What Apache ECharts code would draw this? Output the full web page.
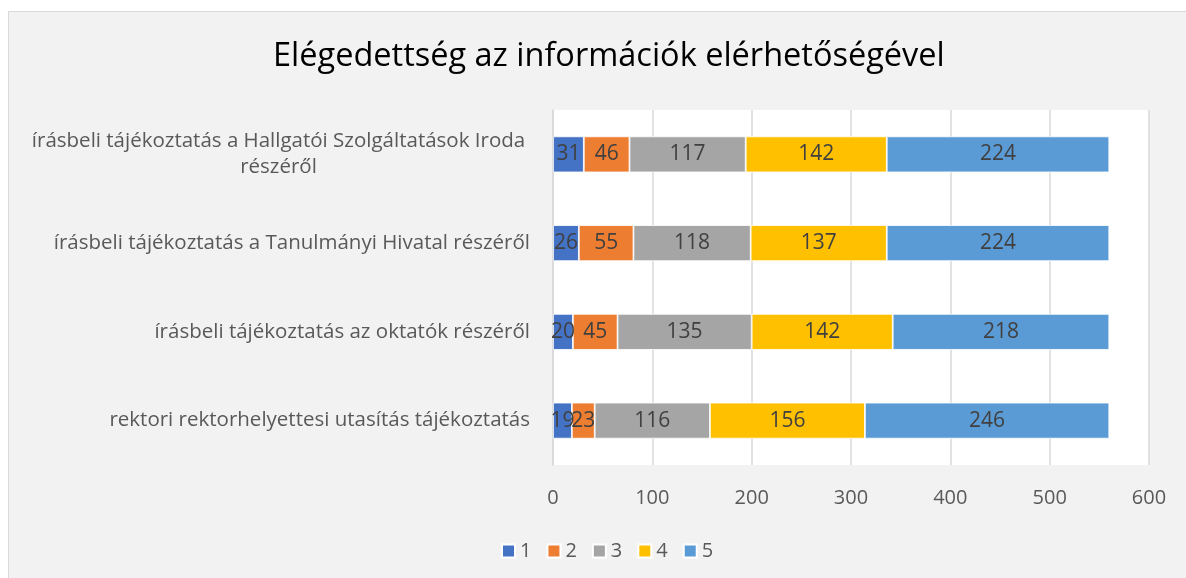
<!DOCTYPE html>
<html>
<head>
<meta charset="utf-8">
<script src="https://cdn.jsdelivr.net/npm/echarts@6/dist/echarts.min.js"></script>
<style>
  html, body { margin: 0; padding: 0; background: #fff; }
  #chart { width: 1186px; height: 578px; }
</style>
</head>
<body>
<div id="chart"></div>
<script>
// kategóriák fentről lefelé
var categories = [
    'írásbeli tájékoztatás a Hallgatói Szolgáltatások Iroda\nrészéről',
    'írásbeli tájékoztatás a Tanulmányi Hivatal részéről',
    'írásbeli tájékoztatás az oktatók részéről',
    'rektori rektorhelyettesi utasítás tájékoztatás'
];
var seriesNames = ['1', '2', '3', '4', '5'];
var values1 = [31, 26, 20, 19];
var values2 = [46, 55, 45, 23];
var values3 = [117, 118, 135, 116];
var values4 = [142, 137, 142, 156];
var values5 = [224, 224, 218, 246];
var colors = ['#4472C4', '#ED7D31', '#A5A5A5', '#FFC000', '#5B9BD5'];

var font = '"Open Sans", "Noto Sans", sans-serif';
var allValues = [values1, values2, values3, values4, values5];

var series = seriesNames.map(function (name, i) {
    return {
        name: name,
        type: 'bar',
        stack: 'total',
        barWidth: 36,
        data: allValues[i],
        itemStyle: { color: colors[i], borderColor: '#ffffff', borderWidth: 0.8 },
        label: {
            show: true,
            position: 'inside',
            color: '#404040',
            fontFamily: font,
            fontSize: 21
        }
    };
});

var chart = echarts.init(document.getElementById('chart'));
chart.setOption({
    animation: false,
    graphic: [{
        type: 'rect',
        z: -10,
        shape: { x: 8.5, y: 11.5, width: 1200, height: 600 },
        style: { fill: '#f2f2f2', stroke: '#d9d9d9', lineWidth: 1 }
    }],
    title: {
        text: 'Elégedettség az információk elérhetőségével',
        left: 268,
        top: 35,
        textStyle: { fontFamily: font, fontSize: 32.5, fontWeight: 'normal', color: '#000' }
    },
    color: colors,
    legend: {
        data: seriesNames,
        left: 496,
        top: 536,
        itemWidth: 13,
        itemHeight: 13,
        itemGap: 15,
        icon: 'rect',
        textStyle: { fontFamily: font, fontSize: 20, color: '#595959' }
    },
    grid: {
        left: 553,
        right: 37,
        top: 110,
        bottom: 113,
        show: true,
        backgroundColor: '#ffffff',
        borderWidth: 0
    },
    xAxis: {
        type: 'value',
        min: 0,
        max: 600,
        interval: 100,
        axisLine: { show: false },
        axisTick: { show: false },
        splitLine: { lineStyle: { color: '#d9d9d9', width: 1.5 } },
        axisLabel: { fontFamily: font, fontSize: 20, color: '#595959', margin: 23 }
    },
    yAxis: {
        type: 'category',
        inverse: true,
        data: categories,
        axisLine: { show: true, lineStyle: { color: '#d9d9d9', width: 1.5 } },
        axisTick: { show: false },
        axisLabel: {
            margin: 23,
            fontFamily: font,
            fontSize: 20.5,
            color: '#595959',
            formatter: function (value) {
                if (value.indexOf('\n') >= 0) {
                    return value.split('\n').map(function (s) { return '{c|' + s + '}'; }).join('\n');
                }
                return value;
            },
            rich: {
                c: { width: 503, align: 'center', fontFamily: font, fontSize: 20.5, color: '#595959', lineHeight: 26 }
            }
        }
    },
    series: series
});
</script>
</body>
</html>
